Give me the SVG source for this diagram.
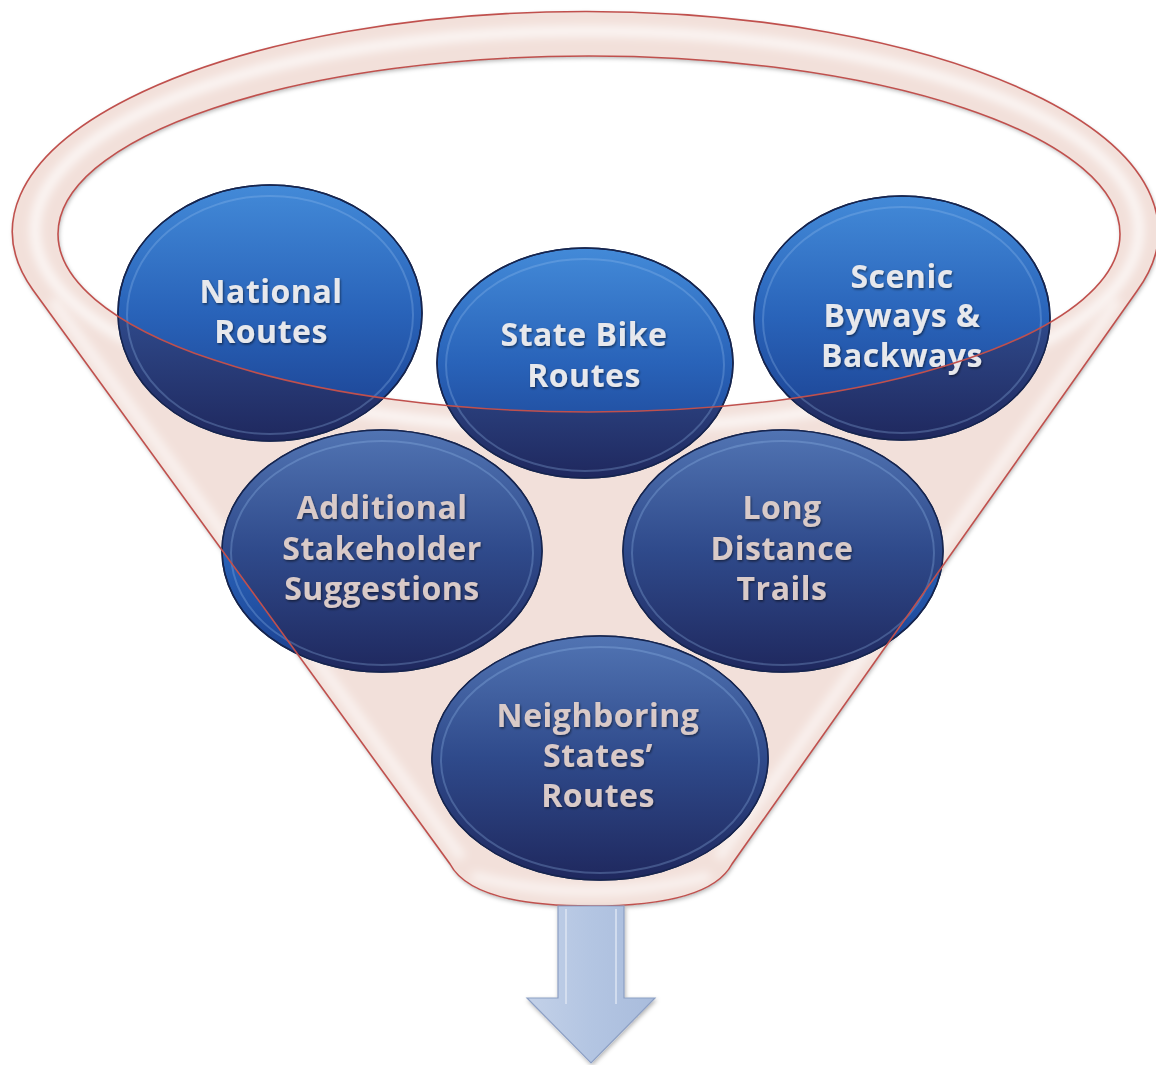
<svg xmlns="http://www.w3.org/2000/svg" width="1156" height="1065" viewBox="0 0 1156 1065">
<style>
  .lbl { font-family: "Open Sans", "Liberation Sans", sans-serif; font-weight: 700; font-size: 32px; letter-spacing: 0.5px; text-anchor: middle; }
  .up { fill: #e7e8ec; filter: url(#txtShadow); }
  .lo { fill: #d9cac8; filter: url(#txtShadow); }
  .disc { stroke: #16254f; stroke-width: 1.5; }
  .bevel { fill: none; stroke: #9cc2f2; stroke-opacity: 0.28; stroke-width: 2; }
  .edge { fill: none; stroke: #c0504d; stroke-width: 1.6; }
</style>
<defs>
  <linearGradient id="gBright" x1="0" y1="0" x2="0" y2="1">
    <stop offset="0" stop-color="#438ad8"/>
    <stop offset="0.5" stop-color="#2963b9"/>
    <stop offset="1" stop-color="#1a3d8c"/>
  </linearGradient>
  <linearGradient id="gMuted" x1="0" y1="0" x2="0" y2="1">
    <stop offset="0" stop-color="#5174b3"/>
    <stop offset="0.5" stop-color="#2f4a8b"/>
    <stop offset="1" stop-color="#1f285e"/>
  </linearGradient>
  <linearGradient id="gArrow" x1="0" y1="0" x2="1" y2="0">
    <stop offset="0" stop-color="#c3d1e8"/>
    <stop offset="0.5" stop-color="#b3c5e2"/>
    <stop offset="1" stop-color="#a9bcdc"/>
  </linearGradient>
  <clipPath id="bodyClip">
    <path clip-rule="evenodd" d="M 33 290 A 573 220 0 1 1 1137 291 L 732 864 C 714 898, 652 906, 591 906 C 530 906, 468 898, 450 864 Z M 58 234 A 531 178 0 1 0 1120 234 A 531 178 0 1 0 58 234 Z"/>
  </clipPath>
  <filter id="txtShadow" x="-10%" y="-30%" width="120%" height="160%">
    <feDropShadow dx="1" dy="1.5" stdDeviation="1" flood-color="#000" flood-opacity="0.5"/>
  </filter>
  <filter id="softShadow" x="-5%" y="-5%" width="110%" height="115%">
    <feDropShadow dx="1" dy="2" stdDeviation="2" flood-color="#000" flood-opacity="0.3"/>
  </filter>
  <filter id="blur6"><feGaussianBlur stdDeviation="5"/></filter>
</defs>

<!-- funnel back / body fill -->
<g id="funnel-back" filter="url(#softShadow)">
  <path fill="#f2e0da" fill-rule="evenodd" d="M 33 290 A 573 220 0 1 1 1137 291 L 732 864 C 714 898, 652 906, 591 906 C 530 906, 468 898, 450 864 Z M 58 234 A 531 178 0 1 0 1120 234 A 531 178 0 1 0 58 234 Z"/>
</g>
<g id="funnel-highlight" clip-path="url(#bodyClip)">
  <ellipse cx="587" cy="230" rx="552" ry="199" fill="none" stroke="#ffffff" stroke-opacity="0.75" stroke-width="10" filter="url(#blur6)"/>
  <path d="M 52 300 L 462 858 M 1118 300 L 718 858 M 472 876 Q 591 906 710 876" fill="none" stroke="#ffffff" stroke-opacity="0.6" stroke-width="10" filter="url(#blur6)"/>
</g>

<!-- nodes -->
<g id="node-national">
  <ellipse class="disc" cx="270" cy="313" rx="152" ry="128" fill="url(#gBright)"/>
  <ellipse cx="270" cy="313" rx="152" ry="128" fill="url(#gMuted)" clip-path="url(#bodyClip)"/>
  <ellipse class="bevel" cx="270" cy="315" rx="143" ry="119"/>
  <ellipse cx="270" cy="313" rx="152" ry="128" fill="none" stroke="#16254f" stroke-width="1.5"/>
  <text class="lbl up" x="271" y="303">National</text>
  <text class="lbl up" x="271" y="343">Routes</text>
</g>
<g id="node-state">
  <ellipse class="disc" cx="585" cy="363" rx="148" ry="115" fill="url(#gBright)"/>
  <ellipse cx="585" cy="363" rx="148" ry="115" fill="url(#gMuted)" clip-path="url(#bodyClip)"/>
  <ellipse class="bevel" cx="585" cy="365" rx="139" ry="106"/>
  <ellipse cx="585" cy="363" rx="148" ry="115" fill="none" stroke="#16254f" stroke-width="1.5"/>
  <text class="lbl up" x="584" y="346">State Bike</text>
  <text class="lbl up" x="584" y="387">Routes</text>
</g>
<g id="node-scenic">
  <ellipse class="disc" cx="902" cy="318" rx="148" ry="122" fill="url(#gBright)"/>
  <ellipse cx="902" cy="318" rx="148" ry="122" fill="url(#gMuted)" clip-path="url(#bodyClip)"/>
  <ellipse class="bevel" cx="902" cy="320" rx="139" ry="113"/>
  <ellipse cx="902" cy="318" rx="148" ry="122" fill="none" stroke="#16254f" stroke-width="1.5"/>
  <text class="lbl up" x="902" y="288">Scenic</text>
  <text class="lbl up" x="902" y="327">Byways &amp;</text>
  <text class="lbl up" x="902" y="367">Backways</text>
</g>
<g id="node-additional">
  <ellipse class="disc" cx="382" cy="551" rx="160" ry="121" fill="url(#gBright)"/>
  <ellipse cx="382" cy="551" rx="160" ry="121" fill="url(#gMuted)" clip-path="url(#bodyClip)"/>
  <ellipse class="bevel" cx="382" cy="553" rx="151" ry="112"/>
  <ellipse cx="382" cy="551" rx="160" ry="121" fill="none" stroke="#16254f" stroke-width="1.5"/>
  <text class="lbl lo" x="382" y="519">Additional</text>
  <text class="lbl lo" x="382" y="560">Stakeholder</text>
  <text class="lbl lo" x="382" y="600">Suggestions</text>
</g>
<g id="node-longdistance">
  <ellipse class="disc" cx="783" cy="551" rx="160" ry="121" fill="url(#gBright)"/>
  <ellipse cx="783" cy="551" rx="160" ry="121" fill="url(#gMuted)" clip-path="url(#bodyClip)"/>
  <ellipse class="bevel" cx="783" cy="553" rx="151" ry="112"/>
  <ellipse cx="783" cy="551" rx="160" ry="121" fill="none" stroke="#16254f" stroke-width="1.5"/>
  <text class="lbl lo" x="782" y="519">Long</text>
  <text class="lbl lo" x="782" y="560">Distance</text>
  <text class="lbl lo" x="782" y="600">Trails</text>
</g>
<g id="node-neighboring">
  <ellipse class="disc" cx="600" cy="758" rx="168" ry="122" fill="url(#gBright)"/>
  <ellipse cx="600" cy="758" rx="168" ry="122" fill="url(#gMuted)" clip-path="url(#bodyClip)"/>
  <ellipse class="bevel" cx="600" cy="760" rx="159" ry="113"/>
  <ellipse cx="600" cy="758" rx="168" ry="122" fill="none" stroke="#16254f" stroke-width="1.5"/>
  <text class="lbl lo" x="598" y="727">Neighboring</text>
  <text class="lbl lo" x="598" y="767">States’</text>
  <text class="lbl lo" x="598" y="807">Routes</text>
</g>

<!-- funnel edges on top -->
<g id="funnel-edges">
  <path class="edge" d="M 33 290 A 573 220 0 1 1 1137 291 L 732 864 C 714 898, 652 906, 591 906 C 530 906, 468 898, 450 864 Z"/>
  <ellipse class="edge" cx="589" cy="234" rx="531" ry="178"/>
</g>

<!-- output arrow -->
<g id="connectors">
  <path d="M 558 906 L 624 906 L 624 998 L 655 998 L 591 1063 L 527 998 L 558 998 Z" fill="url(#gArrow)" stroke="#8c9fc4" stroke-width="1.2" filter="url(#softShadow)"/>
  <path d="M 566 909 L 566 1004 M 616 909 L 616 1004" fill="none" stroke="#dfe7f4" stroke-width="2" stroke-opacity="0.7"/>
</g>
</svg>
